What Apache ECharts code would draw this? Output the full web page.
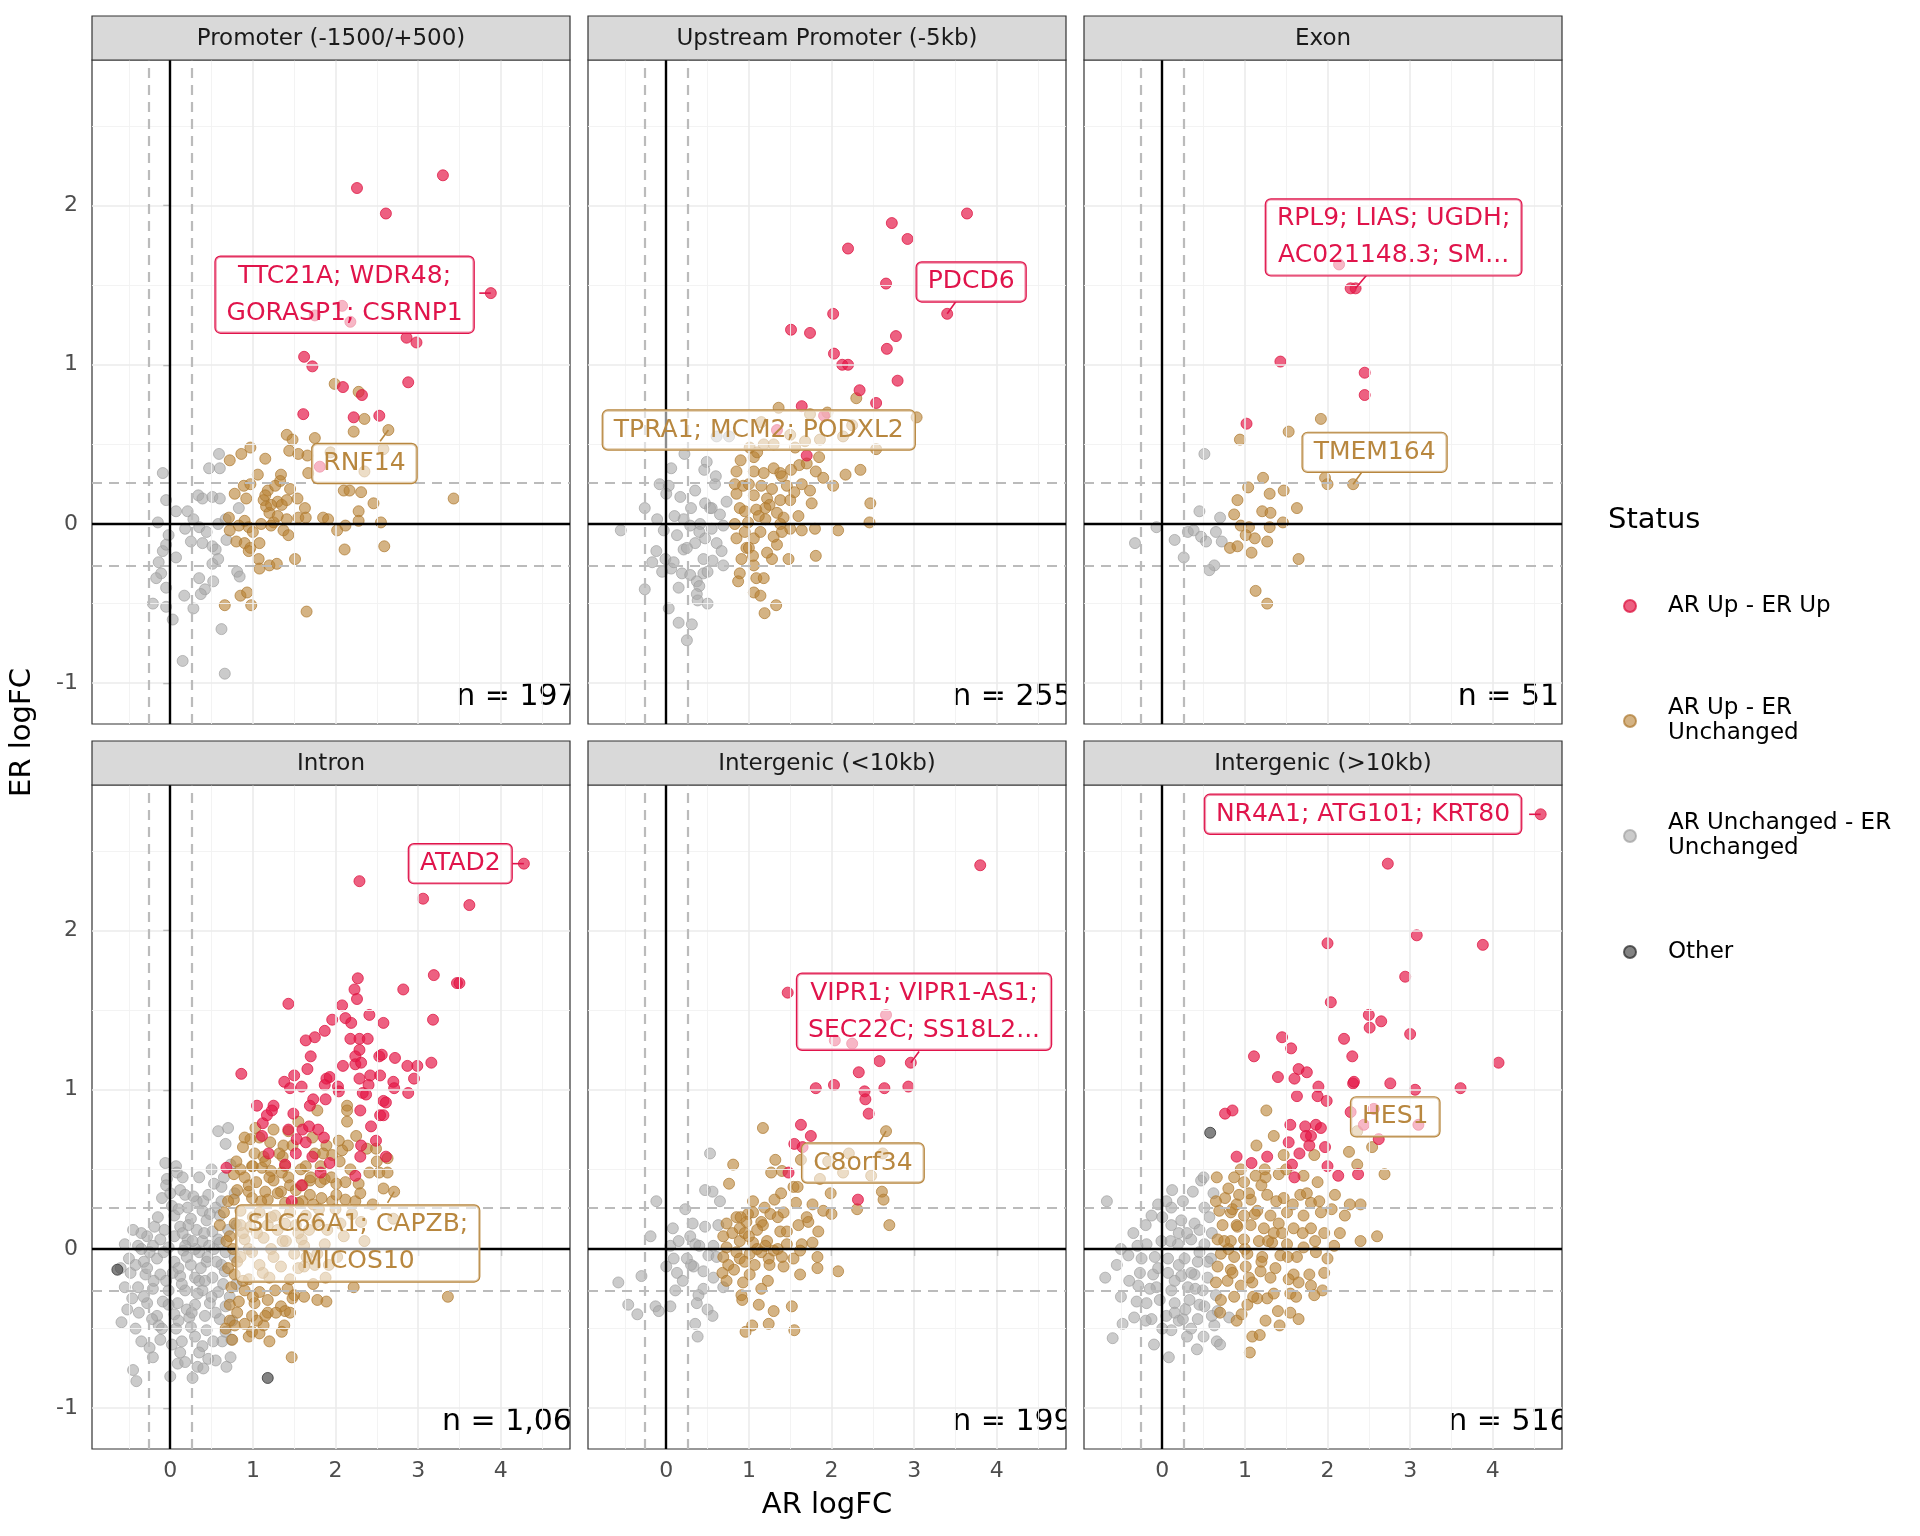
<!DOCTYPE html>
<html><head><meta charset="utf-8">
<script src="https://cdn.jsdelivr.net/npm/echarts@6/dist/echarts.min.js"></script>
<style>html,body{margin:0;padding:0;background:#fff}#chart{width:1920px;height:1536px}</style>
</head><body><div id="chart"></div>
<script>
// ---------------- DATA ----------------
const panels = ['Promoter (-1500/+500)', 'Upstream Promoter (-5kb)', 'Exon', 'Intron', 'Intergenic (<10kb)', 'Intergenic (>10kb)'];
const statuses = ['AR Up - ER Up', 'AR Up - ER Unchanged', 'AR Unchanged - ER Unchanged', 'Other'];
const legendText = {'AR Up - ER Up':'AR Up - ER Up','AR Up - ER Unchanged':'AR Up - ER\nUnchanged','AR Unchanged - ER Unchanged':'AR Unchanged - ER\nUnchanged','Other':'Other'};
const nLabels = ['n = 197', 'n = 255', 'n = 51', 'n = 1,061', 'n = 199', 'n = 516'];
const xTicks = [0, 1, 2, 3, 4];
const yTicks = [-1, 0, 1, 2];
const threshold = 0.263;

// Promoter
const p1Both = [[3.30,2.19],[2.26,2.11],[2.61,1.95],[3.88,1.45],[2.08,1.37],[1.75,1.31],[2.18,1.27],[2.86,1.17],[2.98,1.14],[1.62,1.05],[1.72,0.99],[2.09,0.86],[2.32,0.81],[2.88,0.89],[1.61,0.69],[2.22,0.67],[2.53,0.68],[1.81,0.36]];
const p1AR = [[1.99,0.88],[2.28,0.83],[2.35,0.66],[2.22,0.58],[2.64,0.59],[1.41,0.56],[1.48,0.53],[1.75,0.54],[1.44,0.46],[1.55,0.44],[1.66,0.43],[1.94,0.45],[2.58,0.47],[0.97,0.48],[0.86,0.44],[0.72,0.40],[1.15,0.41],[2.35,0.33],[1.67,0.32],[1.34,0.31],[1.06,0.31],[1.33,0.27],[0.89,0.24],[0.97,0.25],[1.18,0.21],[1.27,0.24],[1.45,0.22],[0.78,0.19],[0.92,0.16],[1.13,0.15],[1.30,0.14],[1.41,0.15],[1.54,0.16],[2.10,0.21],[2.17,0.21],[2.31,0.20],[2.46,0.13],[3.43,0.16],[1.16,0.11],[1.35,0.12],[1.63,0.10],[2.28,0.08],[0.71,0.04],[0.90,0.02],[1.20,0.07],[1.25,0.01],[1.41,0.03],[1.55,0.04],[1.64,0.04],[1.85,0.04],[1.91,0.03],[2.28,0.02],[2.55,0.01],[2.12,-0.01],[2.02,-0.04],[0.83,-0.01],[0.95,-0.02],[1.22,-0.01],[1.37,-0.04],[1.43,-0.07],[0.80,-0.11],[0.90,-0.12],[1.08,-0.12],[0.97,-0.15],[0.95,-0.17],[2.11,-0.16],[2.59,-0.14],[1.07,-0.22],[1.51,-0.22],[1.08,-0.28],[1.20,-0.26],[1.29,-0.25],[0.85,-0.45],[0.93,-0.43],[0.66,-0.51],[0.98,-0.51],[1.65,-0.55],[0.72,-0.04],[1.15,0.18],[1.22,0.12],[1.00,-0.05],[1.30,0.05],[1.10,0.00]];
const p1None = [[0.59,0.44],[0.47,0.35],[0.60,0.35],[-0.09,0.32],[-0.05,0.15],[0.34,0.18],[0.39,0.16],[0.51,0.17],[0.60,0.16],[0.83,0.10],[0.07,0.08],[0.21,0.08],[-0.15,0.01],[0.28,0.03],[0.18,-0.03],[0.35,-0.02],[0.44,-0.05],[0.58,0.00],[0.67,0.03],[-0.02,-0.07],[0.25,-0.11],[0.39,-0.12],[0.51,-0.14],[0.55,-0.16],[0.68,-0.10],[-0.09,-0.17],[-0.05,-0.13],[0.07,-0.21],[-0.14,-0.24],[-0.11,-0.31],[-0.17,-0.34],[0.51,-0.25],[0.58,-0.22],[0.81,-0.30],[0.84,-0.33],[0.35,-0.34],[0.52,-0.36],[-0.05,-0.40],[0.42,-0.41],[0.37,-0.44],[0.17,-0.45],[-0.21,-0.50],[-0.05,-0.52],[0.28,-0.53],[0.03,-0.60],[0.62,-0.66],[0.15,-0.86],[0.66,-0.94]];
const p1Other = [];

// Upstream promoter
const p2Both = [[3.64,1.95],[2.73,1.89],[2.92,1.79],[2.20,1.73],[2.66,1.51],[3.40,1.32],[2.02,1.32],[1.51,1.22],[1.74,1.20],[2.78,1.18],[2.67,1.10],[2.03,1.07],[2.13,1.00],[2.20,1.00],[2.80,0.90],[2.34,0.84],[2.54,0.76],[1.64,0.74],[1.91,0.68],[1.34,0.59],[1.70,0.43]];
const p2AR = [[2.30,0.79],[1.36,0.73],[1.74,0.69],[1.95,0.70],[3.03,0.67],[1.15,0.64],[2.25,0.62],[2.14,0.55],[1.86,0.53],[1.68,0.52],[1.50,0.56],[1.18,0.50],[1.01,0.48],[1.56,0.48],[2.54,0.47],[1.06,0.42],[1.85,0.42],[1.51,0.34],[1.61,0.37],[1.81,0.33],[2.17,0.31],[2.35,0.34],[0.85,0.33],[1.06,0.33],[1.18,0.32],[1.38,0.32],[1.90,0.29],[2.02,0.24],[0.83,0.25],[0.93,0.24],[1.15,0.24],[1.28,0.22],[1.46,0.24],[1.64,0.25],[1.74,0.21],[0.85,0.19],[1.06,0.18],[1.22,0.16],[1.38,0.15],[1.50,0.15],[1.76,0.13],[2.47,0.13],[0.89,0.10],[1.09,0.09],[1.34,0.07],[1.42,0.04],[2.46,0.01],[0.83,0.00],[0.99,0.01],[1.20,0.03],[1.38,0.00],[1.50,-0.03],[1.64,-0.04],[1.80,-0.03],[2.08,-0.04],[0.85,-0.09],[1.06,-0.09],[1.14,-0.05],[0.97,-0.15],[1.34,-0.13],[1.00,-0.15],[0.91,-0.22],[1.28,-0.22],[1.48,-0.22],[1.81,-0.20],[1.06,-0.26],[0.89,-0.31],[0.87,-0.36],[1.09,-0.34],[1.18,-0.34],[1.06,-0.43],[1.14,-0.45],[1.33,-0.51],[1.19,-0.56],[1.25,0.12],[1.12,0.05],[1.30,-0.08],[0.95,0.08],[0.90,0.40],[1.00,0.25],[1.10,0.45],[1.20,0.10],[1.30,0.35],[1.40,-0.05],[1.55,0.20],[1.60,0.05],[1.70,0.38],[0.95,-0.05],[1.05,-0.20],[1.22,-0.18],[1.40,0.30],[1.30,0.50]];
const p2None = [[0.22,0.44],[0.49,0.39],[0.46,0.34],[0.06,0.35],[0.61,0.55],[0.76,0.55],[-0.08,0.25],[0.03,0.24],[0.00,0.19],[0.59,0.25],[0.17,0.17],[0.35,0.21],[0.47,0.13],[0.53,0.10],[0.73,0.14],[-0.26,0.10],[-0.11,0.03],[-0.55,-0.04],[-0.03,-0.04],[0.13,-0.07],[0.29,-0.01],[0.41,0.00],[0.55,-0.03],[0.69,-0.01],[0.35,-0.12],[0.47,-0.09],[0.61,-0.12],[0.21,-0.16],[-0.12,-0.17],[-0.17,-0.24],[-0.01,-0.22],[0.67,-0.17],[0.45,-0.22],[0.56,-0.23],[0.69,-0.26],[0.06,-0.28],[0.09,-0.24],[0.19,-0.31],[0.29,-0.32],[0.37,-0.36],[0.45,-0.31],[0.40,-0.39],[-0.26,-0.41],[0.37,-0.44],[0.03,-0.53],[0.50,-0.50],[0.15,-0.62],[0.31,-0.63],[0.25,-0.73],[0.21,0.03],[0.65,0.06],[0.10,0.05],[0.25,-0.15],[0.40,-0.05],[0.30,0.10],[0.50,-0.30],[0.15,-0.40],[-0.05,-0.30],[0.38,-0.48],[0.60,0.30],[0.55,0.10]];
const p2Other = [];

// Exon
const p3Both = [[2.34,1.48],[2.28,1.48],[2.14,1.63],[1.43,1.02],[2.45,0.95],[2.45,0.81],[1.02,0.63]];
const p3AR = [[1.92,0.66],[1.53,0.58],[0.94,0.53],[1.97,0.29],[2.00,0.25],[2.31,0.25],[1.22,0.29],[1.04,0.23],[1.30,0.19],[1.47,0.21],[0.91,0.15],[1.63,0.10],[0.87,0.06],[1.21,0.08],[1.31,0.07],[1.46,0.01],[0.95,-0.01],[1.05,-0.02],[1.30,-0.02],[1.01,-0.07],[1.12,-0.09],[1.27,-0.11],[0.82,-0.15],[0.91,-0.14],[1.08,-0.18],[1.65,-0.22],[1.13,-0.42],[1.27,-0.50]];
const p3None = [[0.51,0.44],[0.45,0.08],[0.70,0.04],[-0.07,-0.02],[0.15,-0.10],[0.31,-0.05],[0.38,-0.04],[0.47,-0.08],[0.53,-0.11],[0.65,-0.05],[0.72,-0.11],[-0.33,-0.12],[0.26,-0.21],[0.63,-0.26],[0.57,-0.29]];
const p3Other = [];

// Intron
const p4Both = [[4.28,2.42],[2.29,2.31],[3.06,2.20],[3.62,2.16],[3.19,1.72],[3.47,1.67],[3.50,1.67],[2.27,1.70],[2.23,1.63],[2.26,1.57],[2.82,1.63],[1.43,1.54],[2.08,1.53],[1.96,1.44],[2.12,1.45],[2.19,1.42],[2.41,1.47],[2.58,1.42],[3.18,1.44],[1.87,1.37],[1.75,1.33],[1.64,1.31],[2.18,1.32],[2.29,1.32],[2.39,1.32],[1.70,1.21],[2.29,1.25],[2.24,1.21],[2.53,1.21],[2.56,1.22],[2.72,1.20],[3.16,1.17],[2.09,1.15],[2.24,1.16],[2.31,1.17],[2.87,1.15],[2.99,1.15],[1.66,1.13],[0.86,1.10],[1.50,1.09],[1.89,1.07],[1.93,1.08],[2.29,1.07],[2.42,1.09],[2.54,1.09],[2.70,1.05],[2.95,1.07],[1.38,1.05],[1.45,1.01],[1.59,1.02],[1.87,1.03],[2.03,1.02],[2.04,0.99],[2.40,1.03],[2.71,1.01],[2.88,0.98],[2.33,0.98],[2.37,0.97],[1.73,0.94],[1.88,0.94],[2.58,0.93],[2.61,0.92],[1.05,0.90],[1.25,0.90],[1.69,0.90],[1.23,0.87],[2.30,0.87],[1.17,0.84],[1.49,0.85],[2.54,0.84],[2.58,0.84],[1.12,0.79],[1.43,0.75],[1.60,0.75],[1.68,0.77],[1.79,0.75],[2.43,0.77],[1.11,0.71],[1.53,0.69],[1.64,0.67],[1.86,0.70],[2.49,0.68],[2.31,0.65],[1.19,0.60],[1.52,0.60],[1.72,0.58],[2.61,0.58],[2.30,0.58],[0.68,0.51],[1.39,0.53],[1.93,0.54],[2.24,0.46],[1.59,0.40],[1.47,0.30],[1.82,0.48]];
const p4AR = [[2.14,0.90],[2.14,0.87],[1.78,0.87],[1.03,0.76],[1.43,0.74],[2.14,0.80],[2.25,0.71],[2.04,0.68],[0.97,0.69],[1.21,0.67],[1.37,0.65],[0.88,0.64],[1.89,0.65],[2.15,0.65],[2.38,0.63],[2.49,0.63],[1.02,0.60],[1.13,0.58],[1.36,0.58],[1.96,0.59],[2.63,0.57],[0.85,0.50],[0.99,0.52],[1.11,0.51],[1.22,0.49],[1.39,0.52],[1.64,0.52],[1.82,0.52],[0.77,0.47],[2.41,0.48],[2.53,0.48],[2.63,0.48],[0.90,0.45],[1.04,0.42],[1.25,0.43],[1.43,0.45],[1.69,0.43],[1.87,0.44],[2.01,0.41],[2.12,0.42],[2.28,0.41],[2.71,0.36],[0.81,0.37],[0.95,0.36],[1.15,0.36],[1.34,0.36],[1.52,0.37],[1.69,0.34],[1.83,0.32],[2.01,0.34],[0.77,0.31],[0.99,0.32],[1.18,0.31],[1.39,0.29],[1.55,0.29],[1.73,0.28],[1.96,0.30],[2.12,0.31],[2.24,0.30],[0.65,0.23],[0.85,0.24],[1.08,0.23],[1.27,0.21],[1.45,0.23],[1.64,0.21],[0.60,0.15],[0.78,0.16],[0.97,0.14],[1.18,0.15],[1.39,0.16],[1.78,0.17],[2.06,0.16],[2.31,0.17],[2.70,0.19],[0.72,0.08],[0.90,0.06],[1.13,0.07],[1.36,0.05],[1.59,0.06],[1.87,0.03],[0.76,0.00],[0.99,-0.02],[1.22,0.00],[1.50,-0.03],[1.78,-0.03],[0.81,-0.08],[1.08,-0.10],[1.34,-0.11],[1.62,-0.11],[1.92,-0.10],[0.78,-0.16],[0.95,-0.19],[1.20,-0.18],[1.45,-0.19],[1.73,-0.22],[2.22,-0.24],[0.74,-0.24],[0.90,-0.26],[1.08,-0.27],[1.27,-0.26],[1.50,-0.29],[1.78,-0.32],[1.89,-0.33],[3.36,-0.30],[0.83,-0.33],[1.02,-0.34],[1.18,-0.32],[1.34,-0.36],[1.48,-0.31],[0.81,-0.40],[0.99,-0.42],[1.18,-0.40],[1.39,-0.39],[0.72,-0.45],[0.90,-0.47],[1.13,-0.48],[1.38,-0.48],[0.67,-0.50],[0.99,-0.52],[1.08,-0.53],[0.75,-0.57],[1.47,-0.68],[1.55,0.10],[1.65,-0.05],[1.30,0.12],[1.00,0.20],[0.88,0.10],[1.60,0.40],[1.75,0.60],[2.05,0.55],
  [0.70,0.30],[0.68,0.05],[0.70,-0.12],[0.72,-0.35],[0.85,0.15],[0.88,-0.20],[0.95,0.40],[0.95,0.00],[1.00,-0.30],[1.05,0.10],[1.10,0.30],[1.12,-0.15],[1.15,-0.42],[1.20,0.45],[1.22,0.20],[1.25,-0.05],[1.28,-0.40],[1.30,0.35],[1.32,0.60],[1.40,0.05],[1.42,-0.25],[1.45,0.40],[1.48,0.65],[1.52,0.15],[1.55,-0.12],[1.58,0.50],[1.60,0.30],[1.62,-0.30],[1.68,0.12],[1.70,0.45],[1.72,0.70],[1.75,-0.10],[1.80,0.25],[1.82,0.42],[1.85,0.60],[1.88,-0.18],[1.90,0.12],[1.95,0.45],[2.00,0.25],[2.02,-0.05],[2.08,0.62],[2.10,0.08],[2.18,0.50],[2.20,0.22],[2.30,0.35],[2.35,0.05],[2.45,0.28],[2.50,0.55],[2.58,0.38],[0.80,0.55],[0.90,0.70],[1.08,0.70],[1.25,0.75],[1.55,0.80],[0.78,-0.48],[0.95,-0.55],[1.20,-0.58],[1.35,-0.52],[1.00,0.52],[1.15,0.55],[1.35,0.48],[0.85,-0.05],[1.05,-0.45],[1.62,0.02],[1.45,-0.40]];
const p4None = [[0.58,0.74],[0.70,0.76],[0.67,0.66],[0.73,0.53],[-0.06,0.54],[0.07,0.52],[0.08,0.48],[-0.04,0.44],[0.53,0.41],[0.62,0.39],[0.12,0.37],[0.18,0.34],[-0.10,0.32],[0.46,0.34],[0.32,0.30],[0.02,0.27],[0.21,0.26],[0.39,0.24],[0.55,0.26],[0.05,0.21],[0.25,0.19],[0.44,0.18],[0.60,0.21],[-0.19,0.14],[-0.07,0.12],[0.12,0.14],[0.32,0.12],[0.51,0.11],[-0.28,0.08],[-0.12,0.06],[0.05,0.08],[0.21,0.06],[0.39,0.05],[0.58,0.06],[-0.55,0.03],[-0.39,0.02],[-0.21,0.02],[-0.02,0.01],[0.16,-0.01],[0.35,-0.02],[0.53,0.00],[0.67,-0.02],[-0.50,-0.06],[-0.32,-0.08],[-0.16,-0.06],[0.05,-0.08],[0.25,-0.10],[0.44,-0.08],[0.62,-0.10],[-0.48,-0.15],[-0.30,-0.16],[-0.12,-0.16],[0.12,-0.17],[0.30,-0.18],[0.51,-0.18],[-0.55,-0.24],[-0.39,-0.24],[-0.21,-0.25],[-0.02,-0.26],[0.18,-0.26],[0.39,-0.26],[0.58,-0.27],[-0.46,-0.31],[-0.28,-0.34],[-0.09,-0.33],[0.09,-0.34],[0.30,-0.35],[0.48,-0.34],[0.67,-0.36],[-0.38,-0.40],[-0.16,-0.42],[0.05,-0.41],[0.23,-0.43],[0.42,-0.42],[0.60,-0.44],[-0.59,-0.46],[-0.42,-0.50],[-0.14,-0.48],[0.07,-0.50],[0.25,-0.49],[0.44,-0.51],[-0.35,-0.58],[-0.12,-0.57],[0.14,-0.58],[0.39,-0.61],[0.63,-0.58],[0.74,-0.57],[-0.21,-0.68],[0.09,-0.72],[0.18,-0.71],[0.33,-0.74],[0.46,-0.69],[0.73,-0.68],[-0.45,-0.76],[-0.41,-0.83],[0.27,-0.81],[0.35,-0.65],[0.67,-0.52],[0.15,0.10],[0.30,0.00],[0.45,-0.05],[0.10,-0.12],[0.35,-0.20],[0.20,-0.38],[-0.05,-0.20],[0.55,-0.40],
  [-0.35,0.10],[-0.25,-0.02],[-0.15,0.20],[0.00,0.35],[0.10,0.25],[0.22,0.15],[0.28,0.33],[0.40,0.30],[0.48,0.22],[0.62,0.30],[0.70,0.12],[0.66,-0.14],[0.72,-0.30],[0.75,-0.45],[0.52,-0.58],[0.30,-0.55],[0.02,-0.60],[-0.22,-0.44],[-0.32,-0.30],[-0.42,-0.10],[-0.60,-0.12],[-0.52,-0.38],[-0.28,-0.12],[-0.20,-0.20],[-0.08,-0.02],[0.03,-0.15],[0.14,-0.22],[0.20,-0.05],[0.27,0.05],[0.37,-0.12],[0.41,0.10],[0.50,-0.30],[0.56,-0.08],[0.60,0.04],[0.64,-0.22],[0.47,0.02],[0.33,-0.28],[0.26,-0.40],[0.10,-0.45],[-0.02,-0.35],[-0.10,-0.50],[-0.25,-0.62],[0.00,-0.80],[0.12,-0.65],[0.40,-0.75],[0.55,-0.70],[0.68,-0.74],[-0.35,0.00],[-0.45,0.12],[-0.05,0.40],[0.15,0.45],[0.35,0.45],[0.50,0.50],[0.65,0.45],[0.78,0.35],[0.80,0.15],[0.78,-0.05],[0.80,-0.22],[0.42,-0.20],[0.18,0.02]];
const p4Other = [[-0.64,-0.13],[1.18,-0.81]];

// Intergenic (<10kb)
const p5Both = [[3.80,2.41],[1.47,1.61],[2.66,1.47],[2.04,1.31],[2.25,1.29],[2.58,1.18],[2.96,1.17],[2.33,1.11],[1.81,1.01],[2.03,1.03],[2.64,1.01],[2.93,1.02],[2.40,0.99],[2.41,0.94],[2.45,0.85],[1.63,0.78],[1.75,0.71],[1.55,0.66],[1.65,0.64],[1.48,0.48],[2.32,0.31]];
const p5AR = [[2.66,0.74],[1.17,0.76],[2.21,0.60],[2.62,0.60],[1.32,0.56],[0.81,0.53],[1.63,0.56],[1.96,0.55],[2.14,0.48],[1.27,0.48],[1.40,0.49],[1.86,0.44],[2.48,0.46],[0.76,0.41],[1.54,0.39],[1.59,0.39],[1.39,0.35],[1.99,0.35],[2.61,0.36],[2.63,0.31],[1.31,0.31],[1.57,0.29],[1.77,0.28],[2.31,0.25],[1.19,0.26],[0.99,0.22],[1.05,0.23],[0.85,0.20],[1.26,0.22],[1.42,0.23],[1.70,0.20],[1.90,0.24],[2.00,0.22],[0.73,0.16],[0.97,0.17],[1.15,0.17],[1.38,0.11],[1.60,0.15],[1.72,0.17],[2.70,0.15],[0.89,0.13],[1.17,0.15],[1.46,0.11],[1.84,0.11],[0.69,0.08],[0.89,0.05],[1.05,0.04],[1.22,0.05],[1.46,0.03],[1.64,0.03],[1.77,0.04],[0.73,0.01],[0.85,-0.02],[1.01,-0.03],[1.15,-0.02],[1.30,-0.01],[1.54,-0.06],[1.62,-0.01],[1.83,-0.05],[0.69,-0.05],[0.89,-0.06],[1.07,-0.10],[1.24,-0.06],[1.42,-0.11],[1.83,-0.12],[2.08,-0.14],[0.68,-0.15],[0.82,-0.13],[1.01,-0.16],[1.62,-0.16],[0.73,-0.20],[0.93,-0.21],[1.23,-0.20],[0.91,-0.29],[0.92,-0.32],[1.12,-0.35],[1.52,-0.36],[1.30,-0.39],[1.04,-0.48],[1.24,-0.47],[0.96,-0.52],[1.55,-0.51],[0.95,0.10],[1.10,0.00],[1.35,0.00],[0.80,0.10],[0.90,0.20],[1.00,0.08],[1.10,0.12],[1.20,0.02],[1.25,-0.10],[0.95,-0.08],[1.05,0.30],[1.15,-0.25],[1.40,-0.05],[1.35,0.20],[0.75,-0.10]];
const p5None = [[0.53,0.60],[0.47,0.37],[0.56,0.36],[-0.12,0.30],[0.65,0.30],[0.23,0.25],[0.32,0.16],[0.08,0.13],[0.47,0.14],[0.63,0.15],[-0.19,0.08],[0.29,0.08],[0.05,0.02],[0.35,0.03],[0.57,0.02],[0.09,-0.06],[0.25,-0.06],[0.51,-0.04],[0.61,-0.05],[0.00,-0.11],[0.13,-0.15],[0.33,-0.11],[0.45,-0.14],[0.57,-0.18],[-0.30,-0.17],[-0.58,-0.21],[0.11,-0.26],[0.69,-0.24],[0.39,-0.29],[-0.46,-0.35],[-0.35,-0.41],[-0.13,-0.36],[-0.09,-0.39],[0.05,-0.36],[0.37,-0.34],[0.50,-0.38],[0.56,-0.42],[0.35,-0.47],[0.38,-0.55],[0.15,0.05],[0.30,-0.10],[0.40,0.02],[0.20,-0.20],[0.45,-0.25]];
const p5Other = [];

// Intergenic (>10kb)
const p6Both = [[4.58,2.73],[2.73,2.42],[3.08,1.97],[2.00,1.92],[3.88,1.91],[2.94,1.71],[2.04,1.55],[2.50,1.47],[2.65,1.43],[2.51,1.39],[3.00,1.35],[1.45,1.33],[1.56,1.26],[2.20,1.32],[1.11,1.21],[2.30,1.21],[4.07,1.17],[1.65,1.13],[1.75,1.11],[1.40,1.08],[1.60,1.07],[2.31,1.04],[2.32,1.05],[2.76,1.04],[3.06,1.00],[3.61,1.01],[1.89,1.02],[1.63,0.96],[1.88,0.96],[1.99,0.93],[0.76,0.85],[0.85,0.87],[2.28,0.86],[2.56,0.88],[2.44,0.78],[3.10,0.78],[1.55,0.78],[1.73,0.77],[1.86,0.78],[1.92,0.76],[1.80,0.71],[1.74,0.71],[1.53,0.67],[2.62,0.69],[1.78,0.65],[1.97,0.64],[0.90,0.58],[1.08,0.54],[1.27,0.58],[1.66,0.60],[1.57,0.53],[2.00,0.52],[1.60,0.45],[2.13,0.46],[2.37,0.47]];
const p6AR = [[1.26,0.87],[2.36,0.74],[1.35,0.71],[1.14,0.65],[1.47,0.59],[2.26,0.61],[1.24,0.50],[2.54,0.64],[2.69,0.47],[2.36,0.53],[1.84,0.59],[0.66,0.45],[0.87,0.45],[0.99,0.42],[1.13,0.46],[1.41,0.47],[1.71,0.46],[1.88,0.42],[2.09,0.34],[0.76,0.32],[0.93,0.34],[1.07,0.31],[1.27,0.34],[1.47,0.32],[1.67,0.34],[1.80,0.29],[2.27,0.28],[2.40,0.28],[2.21,0.21],[0.69,0.24],[0.83,0.23],[0.99,0.21],[1.15,0.24],[1.31,0.21],[1.51,0.23],[1.71,0.21],[1.92,0.23],[0.73,0.15],[0.91,0.14],[1.07,0.15],[1.23,0.13],[1.41,0.16],[1.59,0.13],[1.80,0.13],[1.96,0.10],[2.60,0.08],[0.67,0.06],[0.83,0.05],[0.99,0.06],[1.17,0.05],[1.33,0.04],[1.51,0.03],[1.71,0.01],[2.08,0.02],[0.71,-0.03],[0.87,-0.05],[1.03,-0.03],[1.21,-0.05],[1.43,-0.04],[1.63,-0.05],[1.86,-0.02],[2.00,-0.06],[0.67,-0.11],[0.83,-0.13],[1.01,-0.11],[1.19,-0.14],[1.37,-0.12],[1.59,-0.16],[1.78,-0.16],[1.96,-0.15],[0.65,-0.21],[0.79,-0.20],[0.95,-0.23],[1.09,-0.21],[1.31,-0.18],[1.53,-0.19],[1.65,-0.21],[1.80,-0.23],[1.94,-0.26],[0.71,-0.32],[0.87,-0.30],[1.03,-0.35],[1.15,-0.31],[1.27,-0.31],[1.55,-0.28],[1.84,-0.29],[0.96,-0.41],[1.40,-0.39],[1.65,-0.44],[1.42,-0.48],[1.09,-0.55],[1.18,-0.54],[1.06,-0.65],[0.90,0.28],[1.20,0.40],[1.05,-0.18],[1.35,0.10],[0.80,0.00],
  [0.65,0.30],[0.75,0.05],[0.80,0.38],[0.85,-0.15],[0.90,0.15],[0.95,0.50],[1.00,0.00],[1.05,0.35],[1.10,-0.30],[1.12,0.22],[1.20,-0.08],[1.25,0.45],[1.28,0.05],[1.35,-0.28],[1.38,0.30],[1.45,0.10],[1.50,0.50],[1.52,-0.05],[1.58,0.28],[1.62,-0.30],[1.70,0.10],[1.75,0.35],[1.85,0.05],[1.90,0.30],[2.05,0.25],[2.15,0.10],[0.70,-0.40],[0.90,-0.45],[1.25,-0.45],[1.55,-0.40],[2.40,0.05],[0.85,0.25]];
const p6None = [[0.12,0.37],[0.47,0.43],[0.37,0.36],[-0.67,0.30],[-0.05,0.28],[0.11,0.26],[0.51,0.26],[-0.13,0.21],[0.23,0.18],[0.39,0.16],[0.57,0.20],[0.11,0.15],[-0.19,0.03],[-0.01,0.05],[0.19,0.03],[0.35,0.06],[0.51,0.03],[-0.41,-0.04],[-0.25,-0.06],[-0.09,-0.05],[0.07,-0.06],[0.27,-0.06],[0.43,-0.08],[0.59,-0.06],[-0.27,-0.15],[-0.11,-0.16],[0.07,-0.15],[0.23,-0.17],[0.39,-0.16],[0.55,-0.18],[-0.69,-0.18],[-0.29,-0.23],[-0.07,-0.24],[0.11,-0.26],[0.31,-0.24],[0.49,-0.26],[0.65,-0.29],[-0.31,-0.33],[-0.19,-0.34],[-0.03,-0.32],[0.15,-0.34],[0.33,-0.32],[0.51,-0.36],[0.67,-0.39],[-0.34,-0.43],[-0.13,-0.44],[0.05,-0.42],[0.25,-0.44],[0.43,-0.44],[0.81,-0.43],[-0.48,-0.47],[0.11,-0.51],[0.35,-0.50],[0.63,-0.48],[-0.60,-0.56],[0.66,-0.58],[0.70,-0.60],[0.42,-0.63],[0.08,-0.68],[0.20,0.10],[0.45,-0.02],[0.28,-0.38],
  [-0.35,0.10],[-0.20,0.15],[0.00,0.20],[0.05,0.30],[0.25,0.30],[0.30,0.10],[0.45,0.12],[0.60,0.10],[0.55,-0.08],[0.40,-0.25],[0.20,-0.10],[0.15,-0.20],[-0.05,-0.12],[-0.15,-0.25],[-0.40,-0.20],[-0.50,-0.30],[-0.20,-0.45],[0.00,-0.50],[0.20,-0.45],[0.45,-0.35],[0.60,-0.42],[0.30,-0.55],[0.50,-0.55],[-0.10,-0.60],[0.15,-0.40],[0.35,-0.15],[0.10,0.05],[-0.30,0.02],[0.62,0.35],[0.50,0.45],[-0.50,0.00],[-0.55,-0.10]];
const p6Other = [[0.58,0.73]];

const panelData = [
  [p1Both, p1AR, p1None, p1Other],
  [p2Both, p2AR, p2None, p2Other],
  [p3Both, p3AR, p3None, p3Other],
  [p4Both, p4AR, p4None, p4Other],
  [p5Both, p5AR, p5None, p5Other],
  [p6Both, p6AR, p6None, p6Other]
];

// gene label annotations (data coordinates of the label box and its leader segment)
const geneLabels = [
  {panel:0, status:0, text:'TTC21A; WDR48;\nGORASP1; CSRNP1', at:[2.11,1.44], from:[3.74,1.45], to:[3.88,1.45]},
  {panel:0, status:1, text:'RNF14', at:[2.35,0.38], from:[2.54,0.52], to:[2.64,0.59]},
  {panel:1, status:0, text:'PDCD6', at:[3.69,1.52], from:[3.51,1.40], to:[3.40,1.32]},
  {panel:1, status:1, text:'TPRA1; MCM2; PODXL2', at:[1.12,0.59]},
  {panel:2, status:0, text:'RPL9; LIAS; UGDH;\nAC021148.3; SM...', at:[2.80,1.80], from:[2.47,1.56], to:[2.34,1.48]},
  {panel:2, status:1, text:'TMEM164', at:[2.57,0.45], from:[2.42,0.33], to:[2.31,0.25]},
  {panel:3, status:0, text:'ATAD2', at:[3.51,2.42], from:[4.14,2.42], to:[4.28,2.42]},
  {panel:3, status:1, text:'SLC66A1; CAPZB;\nMICOS10', at:[2.27,0.035], from:[2.63,0.29], to:[2.71,0.36]},
  {panel:4, status:0, text:'VIPR1; VIPR1-AS1;\nSEC22C; SS18L2...', at:[3.12,1.49], from:[3.06,1.24], to:[2.96,1.17]},
  {panel:4, status:1, text:'C8orf34', at:[2.38,0.54], from:[2.58,0.67], to:[2.66,0.74]},
  {panel:5, status:0, text:'NR4A1; ATG101; KRT80', at:[2.43,2.73], from:[4.44,2.73], to:[4.58,2.73]},
  {panel:5, status:1, text:'HES1', at:[2.82,0.83]}
];
const nLabelAt = [4.19, -1.09];

// ---------------- LAYOUT / STYLE ----------------
const FONT = 'DejaVu Sans';
const colLeft = [92, 588, 1084], rowTop = [60, 785], plotW = 478, plotH = 664, stripH = 44;
const xRange = [-0.947, 4.838], yRange = [-1.256, 2.914];
const xMinor = [-0.5, 0.5, 1.5, 2.5, 3.5, 4.5], yMinor = [-0.5, 0.5, 1.5, 2.5];
const statusStyle = {
  'AR Up - ER Up': {fill:'rgba(228,20,70,0.68)', stroke:'rgba(220,20,64,0.75)', text:'#E0144B'},
  'AR Up - ER Unchanged': {fill:'rgba(183,128,50,0.6)', stroke:'rgba(172,120,46,0.7)', text:'#B8873F'},
  'AR Unchanged - ER Unchanged': {fill:'rgba(169,169,169,0.6)', stroke:'rgba(155,155,155,0.65)'},
  'Other': {fill:'rgba(64,64,64,0.65)', stroke:'rgba(45,45,45,0.75)'}
};
const drawOrder = [2, 1, 0, 3];

const grids = [], xAxes = [], yAxes = [], series = [], graphics = [];
panels.forEach((title, i) => {
  const r = Math.floor(i / 3), c = i % 3;
  grids.push({left: colLeft[c], top: rowTop[r], width: plotW, height: plotH, show: true,
    borderColor: '#333333', borderWidth: 1.2, backgroundColor: '#ffffff', containLabel: false});
  xAxes.push({type: 'value', gridIndex: i, min: xRange[0], max: xRange[1],
    axisLine: {show: false}, splitLine: {show: false},
    axisTick: {show: r === 1, customValues: xTicks, length: 7, lineStyle: {color: '#333333', width: 1.2}},
    axisLabel: {show: r === 1, customValues: xTicks, margin: 11, fontSize: 22, color: '#4D4D4D', fontFamily: FONT}});
  yAxes.push({type: 'value', gridIndex: i, min: yRange[0], max: yRange[1],
    axisLine: {show: false}, splitLine: {show: false},
    axisTick: {show: c === 0, customValues: yTicks, length: 7, lineStyle: {color: '#333333', width: 1.2}},
    axisLabel: {show: c === 0, customValues: yTicks, margin: 14, fontSize: 22, color: '#4D4D4D', fontFamily: FONT}});

  const gl = [];
  xMinor.forEach(v => gl.push({xAxis: v, lineStyle: {color: '#F2F2F2', width: 0.9, type: 'solid'}}));
  yMinor.forEach(v => gl.push({yAxis: v, lineStyle: {color: '#F2F2F2', width: 0.9, type: 'solid'}}));
  xTicks.forEach(v => gl.push({xAxis: v, lineStyle: {color: '#EBEBEB', width: 1.6, type: 'solid'}}));
  yTicks.forEach(v => gl.push({yAxis: v, lineStyle: {color: '#EBEBEB', width: 1.6, type: 'solid'}}));
  series.push({type: 'scatter', xAxisIndex: i, yAxisIndex: i, data: [], silent: true, z: 1,
    markLine: {silent: true, symbol: ['none', 'none'], animation: false, label: {show: false}, data: gl}});
  const dash = {color: '#BBBBBB', width: 2.2, type: [10, 7]};
  const solid = {color: '#000000', width: 2.4, type: 'solid'};
  series.push({type: 'scatter', xAxisIndex: i, yAxisIndex: i, data: [], silent: true, z: 2,
    markLine: {silent: true, symbol: ['none', 'none'], animation: false, label: {show: false}, data: [
      {xAxis: -threshold, lineStyle: dash}, {xAxis: threshold, lineStyle: dash},
      {yAxis: -threshold, lineStyle: dash}, {yAxis: threshold, lineStyle: dash},
      {xAxis: 0, lineStyle: solid}, {yAxis: 0, lineStyle: solid}]}});
  drawOrder.forEach(s => {
    const st = statusStyle[statuses[s]];
    series.push({type: 'scatter', name: statuses[s], xAxisIndex: i, yAxisIndex: i, data: panelData[i][s],
      symbol: 'circle', symbolSize: 11, z: 3, silent: true,
      itemStyle: {color: st.fill, borderColor: st.stroke, borderWidth: 1, opacity: 1}});
  });
  series.push({type: 'custom', xAxisIndex: i, yAxisIndex: i, clip: true, z: 4, silent: true,
    data: [nLabelAt],
    renderItem: (params, api) => {
      const p = api.coord([api.value(0), api.value(1)]);
      return {type: 'text', x: p[0], y: p[1], style: {text: nLabels[i], fontSize: 30, fontFamily: FONT,
        fill: '#000000', align: 'center', verticalAlign: 'middle'}};
    }});
  const labs = geneLabels.map((g, k) => ({g, k})).filter(o => o.g.panel === i);
  series.push({type: 'custom', xAxisIndex: i, yAxisIndex: i, z: 5, silent: true,
    data: labs.map(o => [o.g.at[0], o.g.at[1], o.k]),
    renderItem: (params, api) => {
      const g = geneLabels[api.value(2)];
      const col = statusStyle[statuses[g.status]].text;
      const p = api.coord([api.value(0), api.value(1)]);
      const children = [];
      if (g.from) {
        const a = api.coord(g.from), b = api.coord(g.to);
        children.push({type: 'line', shape: {x1: a[0], y1: a[1], x2: b[0], y2: b[1]},
          style: {stroke: col, lineWidth: 1.6}});
      }
      children.push({type: 'text', x: p[0], y: p[1], style: {text: g.text, fontSize: 25, fontFamily: FONT,
        fill: col, align: 'center', verticalAlign: 'middle', lineHeight: 37,
        backgroundColor: 'rgba(255,255,255,0.55)', borderColor: col, borderWidth: 1.2, borderRadius: 5,
        padding: [1, 11, 1, 11]}});
      return {type: 'group', children};
    }});

  graphics.push({type: 'rect', shape: {x: colLeft[c], y: rowTop[r] - stripH, width: plotW, height: stripH},
    style: {fill: '#D9D9D9', stroke: '#333333', lineWidth: 1.2}, z: 10});
  graphics.push({type: 'text', x: colLeft[c] + plotW / 2, y: rowTop[r] - stripH / 2 + 1, z: 11,
    style: {text: title, fontSize: 23, fontFamily: FONT, fill: '#1A1A1A', align: 'center', verticalAlign: 'middle'}});
});

graphics.push({type: 'text', x: (colLeft[0] + colLeft[2] + plotW) / 2, y: 1505, z: 11,
  style: {text: 'AR logFC', fontSize: 29, fontFamily: FONT, fill: '#000', align: 'center', verticalAlign: 'middle'}});
graphics.push({type: 'text', x: 22, y: (rowTop[0] - stripH + rowTop[1] + plotH) / 2, rotation: Math.PI / 2, z: 11,
  style: {text: 'ER logFC', fontSize: 29, fontFamily: FONT, fill: '#000', align: 'center', verticalAlign: 'middle'}});
graphics.push({type: 'text', x: 1608, y: 520, z: 11,
  style: {text: 'Status', fontSize: 29, fontFamily: FONT, fill: '#000', align: 'left', verticalAlign: 'middle'}});

const legendCenters = [606, 721, 836, 952];
const legends = statuses.map((s, k) => {
  const lines = legendText[s].split('\n').length;
  return {data: [s], orient: 'vertical', left: 1623, top: legendCenters[k] - lines * 25 / 2, padding: 0,
    itemWidth: 66, itemHeight: 12, icon: 'circle', selectedMode: false,
    formatter: n => legendText[n],
    textStyle: {fontSize: 23, lineHeight: 25, color: '#000', fontFamily: FONT}};
});

const chart = echarts.init(document.getElementById('chart'), null, {renderer: 'canvas', width: 1920, height: 1536});
chart.setOption({
  animation: false,
  backgroundColor: '#ffffff',
  textStyle: {fontFamily: FONT},
  grid: grids, xAxis: xAxes, yAxis: yAxes, series, legend: legends, graphic: graphics
});
</script></body></html>
